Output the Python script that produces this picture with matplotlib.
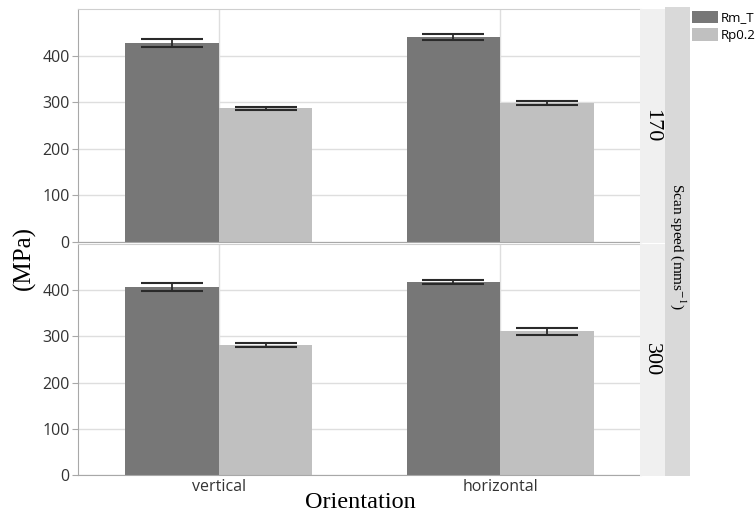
import numpy as np
import matplotlib
matplotlib.use('Agg')
import matplotlib.pyplot as plt
from matplotlib.patches import Patch

# categories
orientations = ['vertical', 'horizontal']
speeds = ['170', '300']
series = ['Rm_T', 'Rp0.2']

# values per scan speed (MPa)
rm_t_170 = [427, 439]
rm_t_170_err = [8, 6.5]
rp02_170 = [287, 298]
rp02_170_err = [3, 3.7]

rm_t_300 = [407, 418]
rm_t_300_err = [8, 3.5]
rp02_300 = [281, 311]
rp02_300_err = [5, 8]

yticks = [0, 100, 200, 300, 400]

plt.rcParams['mathtext.fontset'] = 'stix'

W, H = 755, 517
fig = plt.figure(figsize=(W / 100, H / 100), dpi=100)

COL = {'Rm_T': '#777777', 'Rp0.2': '#c0c0c0'}
tick_font = 'Open Sans'
serif = 'Liberation Serif'


def fx(px):
    return px / W


def fy(py):
    return 1 - py / H


left, right = 78, 641
panels = [
    (9, 242, rm_t_170, rm_t_170_err, rp02_170, rp02_170_err),
    (244, 475, rm_t_300, rm_t_300_err, rp02_300, rp02_300_err),
]

x = np.arange(len(orientations))
bw = 0.333
axes = []
for i, (top, bot, rm, rm_e, rp, rp_e) in enumerate(panels):
    ax = fig.add_axes([fx(left), fy(bot), fx(right - left), (bot - top) / H])
    axes.append(ax)
    ax.bar(x - bw / 2, rm, width=bw, color=COL['Rm_T'], zorder=2)
    ax.bar(x + bw / 2, rp, width=bw, color=COL['Rp0.2'], zorder=2)
    ax.errorbar(x - bw / 2, rm, yerr=rm_e, fmt='none', ecolor='#2a2a2a',
                elinewidth=1.3, capsize=22, capthick=1.5, zorder=3)
    ax.errorbar(x + bw / 2, rp, yerr=rp_e, fmt='none', ecolor='#2a2a2a',
                elinewidth=1.3, capsize=22, capthick=1.5, zorder=3)
    ax.set_xlim(-0.5, 1.5)
    ax.set_ylim(0, 500)
    ax.set_yticks(yticks)
    ax.set_xticks(x)
    ax.grid(True, color='#dedede', lw=1, zorder=0)
    ax.set_axisbelow(True)
    ax.spines['right'].set_visible(False)
    ax.spines['top'].set_color('#cfcfcf')
    ax.spines['left'].set_color('#a8a8a8')
    ax.spines['bottom'].set_color('#a8a8a8')
    ax.tick_params(axis='y', length=4, color='#a8a8a8', pad=2,
                   labelsize=11.5, labelcolor='#333333')
    ax.tick_params(axis='x', length=0, pad=3, labelsize=11.5,
                   labelcolor='#333333')
    for lab in ax.get_yticklabels() + ax.get_xticklabels():
        lab.set_fontfamily(tick_font)
    if i == 0:
        ax.set_xticklabels([])
    else:
        ax.set_xticklabels(orientations)

    # light strip with the scan speed
    sax = fig.add_axes([fx(640), fy(bot + 1), fx(25), (bot + 1 - top) / H])
    sax.set_facecolor('#f0f0f0')
    sax.set_xticks([])
    sax.set_yticks([])
    for s in sax.spines.values():
        s.set_visible(False)
    sax.text(0.45, 0.5, speeds[i], rotation=-90, ha='center', va='center',
             fontsize=16, family=serif, transform=sax.transAxes)

# darker outer strip
oax = fig.add_axes([fx(665), fy(476), fx(25), (476 - 7) / H])
oax.set_facecolor('#d9d9d9')
oax.set_xticks([])
oax.set_yticks([])
for s in oax.spines.values():
    s.set_visible(False)
oax.text(0.5, 0.49, 'Scan speed (mms$^{-1}$)', rotation=-90, ha='center',
         va='center', fontsize=11, family=serif, transform=oax.transAxes)

fig.text(fx(24), fy(258), '(MPa)', rotation=90, ha='center', va='center',
         fontsize=18, family=serif)
fig.text(fx(360), fy(503), 'Orientation', ha='center', va='center',
         fontsize=17.5, family=serif)

handles = [Patch(facecolor=COL[s], edgecolor='none', label=s) for s in series]
leg = fig.legend(handles=handles, loc='upper left',
                 bbox_to_anchor=(fx(689), fy(8)), frameon=False,
                 handlelength=2.0, handleheight=1.1, handletextpad=0.2,
                 labelspacing=0.3, borderaxespad=0, borderpad=0.2,
                 prop={'family': tick_font, 'size': 9.5})

fig.savefig('out.png', dpi=100)
